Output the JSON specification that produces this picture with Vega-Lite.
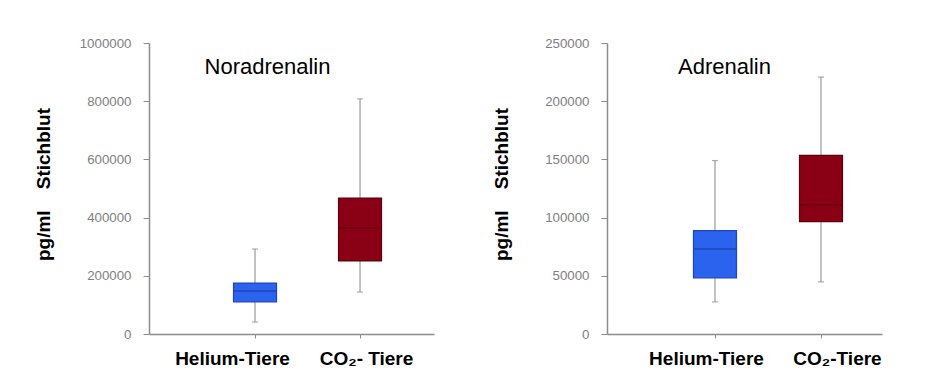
{
  "$schema": "https://vega.github.io/schema/vega-lite/v6.json",
  "background": "white",
  "padding": {"left": 34, "top": 36, "right": 5, "bottom": 5},
  "datasets": {
    "nor": [
      {"kategorie": "Helium-Tiere", "gruppe": "Helium", "min": 41000, "q1": 110000, "median": 148000, "q3": 175000, "max": 292000},
      {"kategorie": "CO₂- Tiere", "gruppe": "CO2", "min": 144000, "q1": 251000, "median": 364000, "q3": 467000, "max": 808000}
    ],
    "adr": [
      {"kategorie": "Helium-Tiere", "gruppe": "Helium", "min": 27600, "q1": 48300, "median": 73000, "q3": 88800, "max": 149000},
      {"kategorie": "CO₂-Tiere", "gruppe": "CO2", "min": 44800, "q1": 96600, "median": 111000, "q3": 153400, "max": 220700}
    ]
  },
  "spacing": 58,
  "hconcat": [
    {
      "width": 285,
      "height": 291,
      "data": {"name": "nor"},
      "title": {"text": "Noradrenalin", "fontSize": 22, "fontWeight": "normal", "font": "Liberation Sans", "color": "black", "offset": -43, "dx": -24},
      "encoding": {
        "x": {"field": "kategorie", "type": "nominal", "sort": null,
          "scale": {"type": "point", "padding": 0.857, "align": 0.589},
          "axis": {"title": null, "labelAngle": 0, "labelOffset": {"expr": "datum.value == 'Helium-Tiere' ? -23 : 6"}}}
      },
      "layer": [
        {"mark": {"type": "rule", "color": "#9a9a9a", "strokeWidth": 1.2},
         "encoding": {"y": {"field": "min", "type": "quantitative", "scale": {"domain": [0, 1000000], "nice": false},
            "axis": {"values": [0, 200000, 400000, 600000, 800000, 1000000], "format": "d", "title": "pg/ml\u00a0\u00a0\u00a0\u00a0Stichblut", "titleY": 141}},
           "y2": {"field": "max"}}},
        {"mark": {"type": "tick", "color": "#8a8a8a", "size": 6, "thickness": 1.2}, "encoding": {"y": {"field": "min", "type": "quantitative"}}},
        {"mark": {"type": "tick", "color": "#8a8a8a", "size": 6, "thickness": 1.2}, "encoding": {"y": {"field": "max", "type": "quantitative"}}},
        {"mark": {"type": "bar", "width": 43, "strokeWidth": 1.2},
         "encoding": {"y": {"field": "q1", "type": "quantitative"}, "y2": {"field": "q3"},
           "fill": {"field": "gruppe", "type": "nominal", "scale": {"domain": ["Helium", "CO2"], "range": ["#2b63ee", "#8a0014"]}, "legend": null},
           "stroke": {"field": "gruppe", "type": "nominal", "scale": {"domain": ["Helium", "CO2"], "range": ["#1d45c2", "#5c000d"]}, "legend": null}}},
        {"mark": {"type": "tick", "size": 43, "thickness": 1.5},
         "encoding": {"y": {"field": "median", "type": "quantitative"},
           "color": {"field": "gruppe", "type": "nominal", "scale": {"domain": ["Helium", "CO2"], "range": ["#1a3a9e", "#5a000c"]}, "legend": null}}}
      ]
    },
    {
      "width": 275,
      "height": 291,
      "data": {"name": "adr"},
      "title": {"text": "Adrenalin", "fontSize": 22, "fontWeight": "normal", "font": "Liberation Sans", "color": "black", "offset": -43, "dx": -20},
      "encoding": {
        "x": {"field": "kategorie", "type": "nominal", "sort": null,
          "scale": {"type": "point", "padding": 0.797, "align": 0.639},
          "axis": {"title": null, "labelAngle": 0, "labelOffset": {"expr": "datum.value == 'Helium-Tiere' ? -9 : 16"}}}
      },
      "layer": [
        {"mark": {"type": "rule", "color": "#9a9a9a", "strokeWidth": 1.2},
         "encoding": {"y": {"field": "min", "type": "quantitative", "scale": {"domain": [0, 250000], "nice": false},
            "axis": {"values": [0, 50000, 100000, 150000, 200000, 250000], "format": "d", "title": "pg/ml\u00a0\u00a0\u00a0\u00a0Stichblut", "titleY": 141, "titlePadding": 33}},
           "y2": {"field": "max"}}},
        {"mark": {"type": "tick", "color": "#8a8a8a", "size": 6, "thickness": 1.2}, "encoding": {"y": {"field": "min", "type": "quantitative"}}},
        {"mark": {"type": "tick", "color": "#8a8a8a", "size": 6, "thickness": 1.2}, "encoding": {"y": {"field": "max", "type": "quantitative"}}},
        {"mark": {"type": "bar", "width": 43, "strokeWidth": 1.2},
         "encoding": {"y": {"field": "q1", "type": "quantitative"}, "y2": {"field": "q3"},
           "fill": {"field": "gruppe", "type": "nominal", "scale": {"domain": ["Helium", "CO2"], "range": ["#2b63ee", "#8a0014"]}, "legend": null},
           "stroke": {"field": "gruppe", "type": "nominal", "scale": {"domain": ["Helium", "CO2"], "range": ["#1d45c2", "#5c000d"]}, "legend": null}}},
        {"mark": {"type": "tick", "size": 43, "thickness": 1.5},
         "encoding": {"y": {"field": "median", "type": "quantitative"},
           "color": {"field": "gruppe", "type": "nominal", "scale": {"domain": ["Helium", "CO2"], "range": ["#1a3a9e", "#5a000c"]}, "legend": null}}}
      ]
    }
  ],
  "config": {
    "view": {"stroke": null},
    "font": "Liberation Sans",
    "axis": {"grid": false, "domainColor": "#8c8c8c", "tickColor": "#8c8c8c", "domainWidth": 1.5},
    "axisY": {"labelColor": "#808080", "labelFontSize": 13.3, "labelFont": "Liberation Sans", "tickSize": 6, "labelPadding": 12,
      "titleFont": "Liberation Sans", "titleFontSize": 19, "titleFontWeight": "bold", "titleColor": "black", "titlePadding": 26},
    "axisX": {"labelColor": "black", "labelFontSize": 19, "labelFontWeight": "bold", "labelFont": "Liberation Sans", "tickSize": 4, "labelPadding": 11}
  }
}
